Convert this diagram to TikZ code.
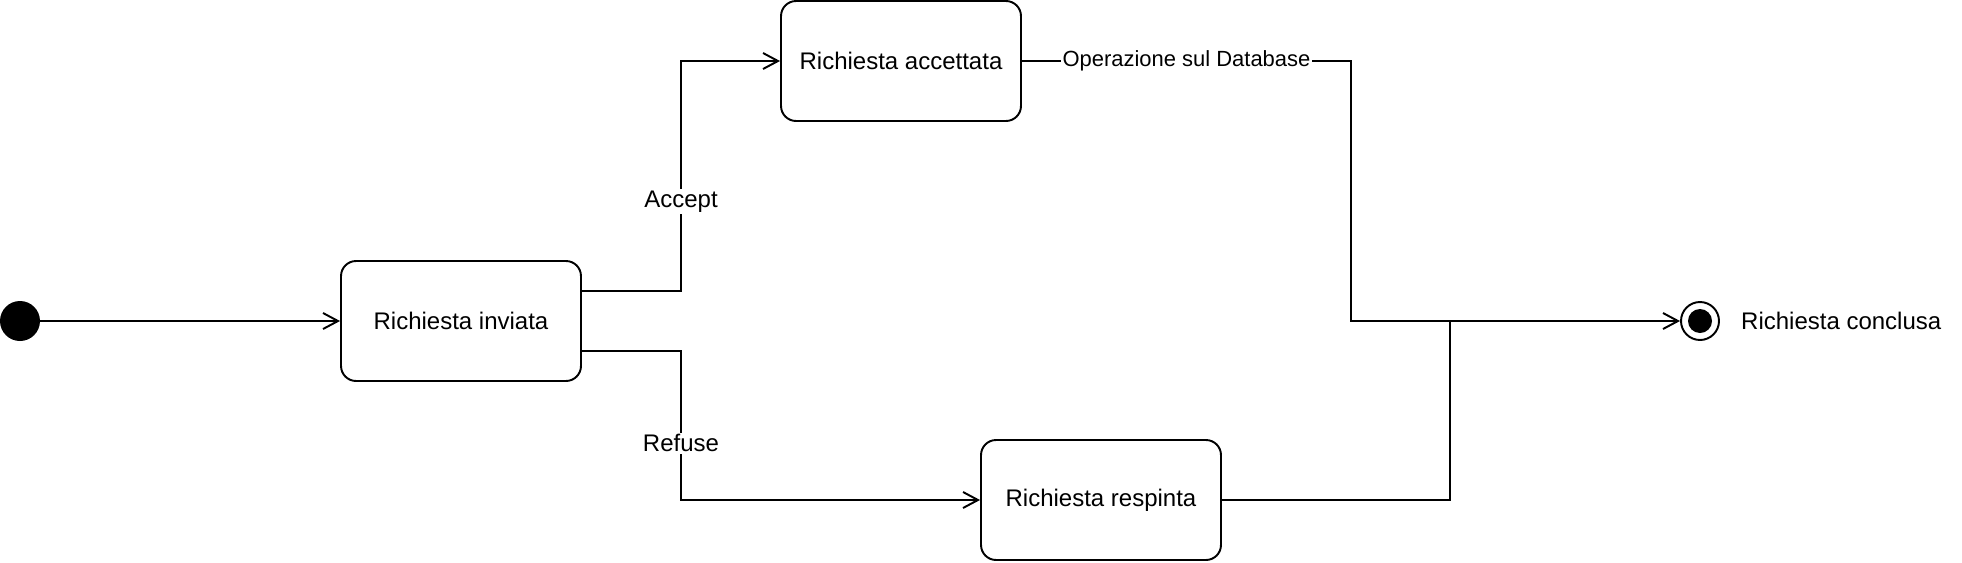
\documentclass[tikz,border=0pt]{standalone}
\usepackage{fontspec}
\setmainfont{Liberation Sans}
\usepackage{tikz}
\usetikzlibrary{arrows.meta, positioning}

\begin{document}
\begin{tikzpicture}[x=0.02cm,y=-0.02cm,
  state/.style={draw,line width=1.1pt,rounded corners=0.3cm,minimum width=4.8cm,minimum height=2.4cm,font=\fontsize{13.66pt}{16pt}\selectfont},
  trans/.style={line width=1.1pt,-{Straight Barb[length=0.3cm,width=0.32cm,line width=1.1pt]}},
  link/.style={line width=1.1pt},
  lbl/.style={fill=white,inner sep=1pt,font=\fontsize{13.66pt}{16pt}\selectfont},
  lblsmall/.style={fill=white,inner sep=1pt,font=\fontsize{12.5pt}{15pt}\selectfont}]
\useasboundingbox (0,0) rectangle (1962,562);
% initial and final states
\node[circle,fill=black,inner sep=0pt,minimum size=0.8cm] (start) at (20,321) {};
\node[circle,draw,line width=1.1pt,inner sep=0pt,minimum size=0.76cm] (end) at (1700,321) {};
\node[circle,fill=black,inner sep=0pt,minimum size=0.48cm] (endin) at (end.center) {};
\node[right=0.3cm of end,font=\fontsize{13.66pt}{16pt}\selectfont] (endlbl) {Richiesta conclusa};
% states
\node[state] (inv) at (461,321) {Richiesta inviata};
\node[state] (acc) at (901,61) {Richiesta accettata};
\node[state] (resp) at (1101,500) {Richiesta respinta};
% bends
\coordinate (fork) at (681,321);
\coordinate (merge) at (1351,321);
\coordinate (merge2) at (1450,321);
% transitions
\draw[trans] (start) -- (inv);
\draw[trans] ([yshift=0.6cm]inv.east) -| node[lbl,pos=0.695]{Accept} (fork |- acc.west) -- (acc.west);
\draw[trans] ([yshift=-0.6cm]inv.east) -| node[lbl,pos=0.81]{Refuse} (fork |- resp.west) -- (resp.west);
\draw[trans] (acc.east) -- node[lblsmall]{Operazione sul Database} (merge |- acc.east) -- (merge) -- (end);
\draw[link] (resp.east) -| (merge2);
\end{tikzpicture}
\end{document}
